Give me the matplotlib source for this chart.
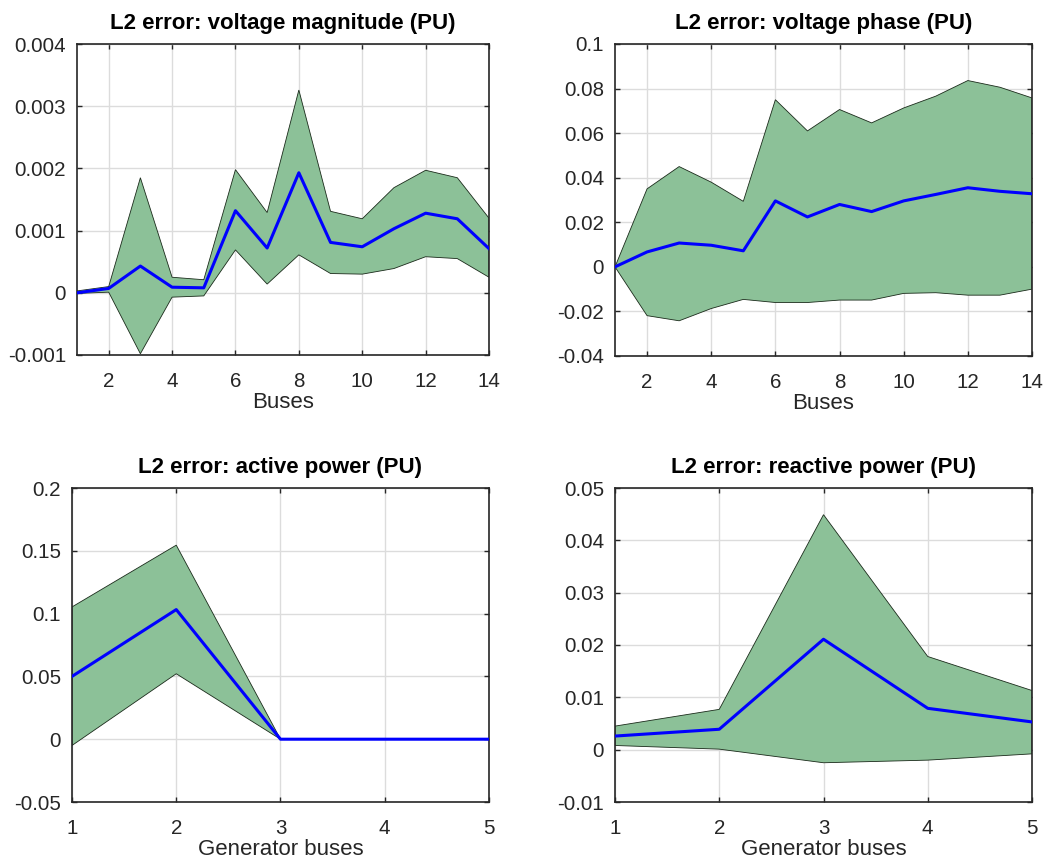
import numpy as np
import matplotlib
matplotlib.use("Agg")
import matplotlib.pyplot as plt

plt.rcParams['font.family'] = ['Liberation Sans', 'DejaVu Sans']

buses = np.arange(1, 15)
gen_buses = np.arange(1, 6)

# voltage magnitude
vm_mean = [0, 0.00007, 0.00043, 0.00009, 0.00008, 0.00132, 0.00072, 0.00193,
           0.00081, 0.00074, 0.00103, 0.00128, 0.00119, 0.00071]
vm_upper = [0.00003, 0.0001, 0.00185, 0.00025, 0.00021, 0.00198, 0.00129, 0.00326,
            0.00131, 0.00119, 0.00169, 0.00197, 0.00185, 0.0012]
vm_lower = [-0.00001, 0.00001, -0.00098, -0.00007, -0.00005, 0.00069, 0.00014, 0.00061,
            0.00031, 0.0003, 0.00039, 0.00058, 0.00055, 0.00025]

# voltage phase
va_mean = [0, 0.0067, 0.0107, 0.0097, 0.0072, 0.0296, 0.0224, 0.028,
           0.0248, 0.0296, 0.0325, 0.0355, 0.0339, 0.0328]
va_upper = [0, 0.035, 0.045, 0.038, 0.0294, 0.075, 0.061, 0.0706,
            0.0646, 0.0713, 0.0766, 0.0836, 0.0806, 0.0758]
va_lower = [0, -0.0219, -0.0242, -0.0187, -0.0146, -0.016, -0.016, -0.0149,
            -0.0149, -0.0119, -0.0116, -0.0127, -0.0127, -0.01]

# active power
p_mean = [0.05, 0.1032, 0, 0, 0]
p_upper = [0.1053, 0.1545, 0, 0, 0]
p_lower = [-0.005, 0.0521, 0, 0, 0]

# reactive power
q_mean = [0.0026, 0.0039, 0.0211, 0.0079, 0.0053]
q_upper = [0.0045, 0.0077, 0.0449, 0.0178, 0.0113]
q_lower = [0.0008, 0.0001, -0.0025, -0.002, -0.0008]

W, H = 1045, 861
fig = plt.figure(figsize=(W / 100, H / 100), dpi=100)

def box(l, r, t, b):
    return [l / W, 1 - b / H, (r - l) / W, (b - t) / H]

panels = [
    (box(77, 489, 44, 355), buses, vm_mean, vm_upper, vm_lower,
     'L2 error: voltage magnitude (PU)', 'Buses', (-0.001, 0.004),
     np.arange(-0.001, 0.0041, 0.001), ['-0.001', '0', '0.001', '0.002', '0.003', '0.004'],
     [2, 4, 6, 8, 10, 12, 14]),
    (box(615, 1032, 44, 356), buses, va_mean, va_upper, va_lower,
     'L2 error: voltage phase (PU)', 'Buses', (-0.04, 0.1),
     np.arange(-0.04, 0.101, 0.02), ['-0.04', '-0.02', '0', '0.02', '0.04', '0.06', '0.08', '0.1'],
     [2, 4, 6, 8, 10, 12, 14]),
    (box(72, 489, 488, 802), gen_buses, p_mean, p_upper, p_lower,
     'L2 error: active power (PU)', 'Generator buses', (-0.05, 0.2),
     np.arange(-0.05, 0.201, 0.05), ['-0.05', '0', '0.05', '0.1', '0.15', '0.2'],
     [1, 2, 3, 4, 5]),
    (box(615, 1032, 488, 802), gen_buses, q_mean, q_upper, q_lower,
     'L2 error: reactive power (PU)', 'Generator buses', (-0.01, 0.05),
     np.arange(-0.01, 0.051, 0.01), ['-0.01', '0', '0.01', '0.02', '0.03', '0.04', '0.05'],
     [1, 2, 3, 4, 5]),
]

for pos, x, m, up, lo, title, xlabel, ylim, yt, ytl, xt in panels:
    ax = fig.add_axes(pos)
    xs = list(x) + list(x)[::-1]
    ys = list(up) + list(lo)[::-1]
    ax.fill(xs, ys, facecolor='#8cc198', edgecolor='#1a2a1a', linewidth=0.6, zorder=2)
    ax.plot(x, m, color='#0000ff', linewidth=2.2, zorder=3)
    ax.set_xlim(x[0], x[-1])
    ax.set_ylim(*ylim)
    ax.set_xticks(xt)
    ax.set_yticks(yt)
    ax.set_yticklabels(ytl)
    ax.grid(True, color='#dcdcdc', linewidth=1.0, zorder=0)
    ax.set_axisbelow(True)
    ax.tick_params(direction='in', top=True, right=True, length=3.5, width=1,
                   labelsize=14.8, colors='#262626')
    ax.tick_params(axis='x', pad=12)
    ax.tick_params(axis='y', pad=8)
    for s in ax.spines.values():
        s.set_linewidth(1.2)
        s.set_color('#262626')
    ax.set_title(title, fontsize=16, fontweight='bold', pad=11)
    ax.set_xlabel(xlabel, fontsize=16, color='#262626', labelpad=1)

fig.savefig('out.png', dpi=100)
